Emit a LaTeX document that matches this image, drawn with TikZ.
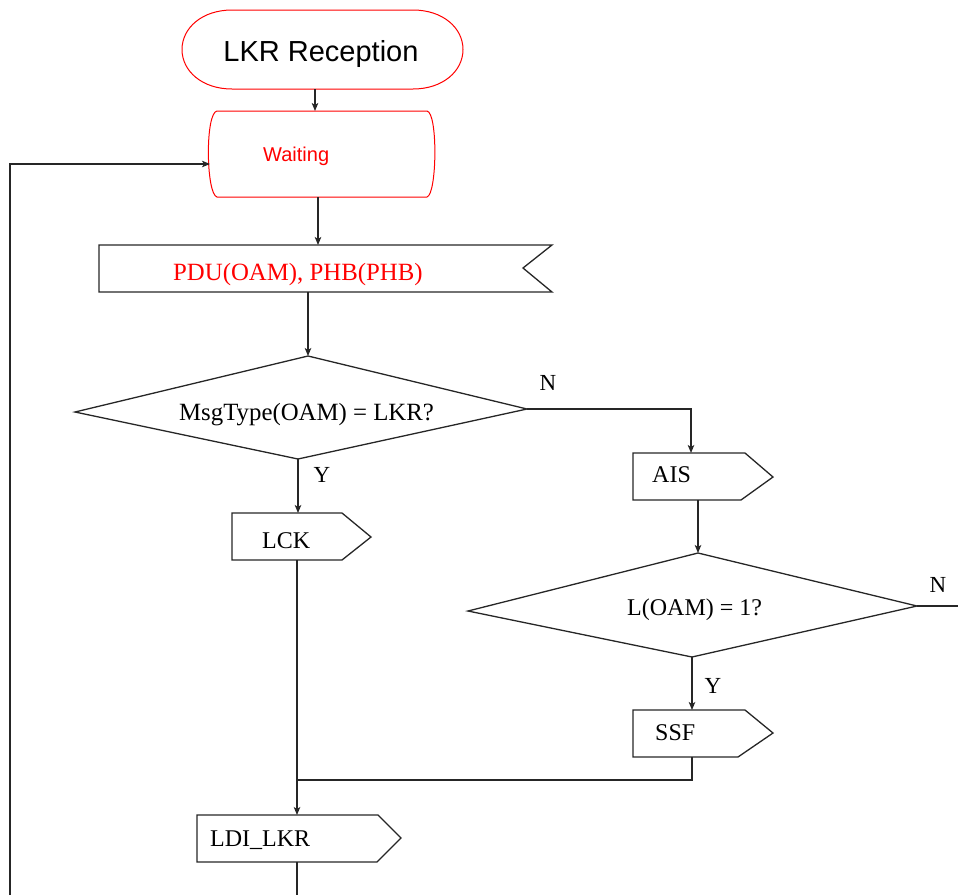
\documentclass[tikz,border=0pt]{standalone}
\usepackage{fontspec}
\setmainfont{Liberation Serif}
\newfontfamily\arialfont{Liberation Sans}
\usetikzlibrary{arrows.meta}
\begin{document}
\begin{tikzpicture}[x=1pt,y=-1pt,
  line/.style={draw=black!85, line width=1.4pt},
  flow/.style={line, -{Stealth[length=8pt,width=6.5pt,inset=2pt]}},
  redshape/.style={draw=red, line width=1pt},
  blkshape/.style={draw=black!85, line width=1.3pt},
  serif/.style={font=\fontsize{24}{28}\selectfont, inner sep=0pt, anchor=base west},
  serifL/.style={font=\fontsize{24.8}{28}\selectfont, inner sep=0pt, anchor=base west},
  yn/.style={font=\fontsize{23}{26}\selectfont, inner sep=0pt}]
\useasboundingbox (0,0) rectangle (958,895);

% start terminal
\draw[redshape] (232,10) -- (413,10) .. controls (443,10) and (463,28) .. (463,49.5)
  .. controls (463,71) and (443,89) .. (413,89) -- (232,89)
  .. controls (202,89) and (182,71) .. (182,49.5)
  .. controls (182,28) and (202,10) .. (232,10) -- cycle;
\node[font=\arialfont\fontsize{29}{32}\selectfont, inner sep=0pt, anchor=base] (start) at (321,61) {LKR Reception};
\coordinate (startB) at (315,89);

% waiting state
\draw[redshape] (217,111) -- (427,111) .. controls (438,113) and (437,194) .. (427,197)
  -- (217,197) .. controls (206,194) and (205,113) .. (217,111) -- cycle;
\node[font=\arialfont\fontsize{20}{24}\selectfont, text=red, inner sep=0pt, anchor=base west] (waiting) at (263,161) {Waiting};
\coordinate (waitT) at (315,111);
\coordinate (waitB) at (318,197);
\coordinate (waitL) at (210,164);

% input signal
\draw[blkshape] (99,245) -- (552,245) -- (523,268) -- (552,292) -- (99,292) -- cycle;
\node[serifL, text=red] (pdu) at (173,280) {PDU(OAM), PHB(PHB)};
\coordinate (pduT) at (318,245);
\coordinate (pduB) at (308,292);

% decision 1
\coordinate (d1T) at (308,356);
\coordinate (d1R) at (527,409);
\coordinate (d1B) at (298,459);
\coordinate (d1L) at (75,412);
\draw[blkshape] (d1T) -- (d1R) -- (d1B) -- (d1L) -- cycle;
\node[serifL] (dec1) at (179,420) {MsgType(OAM) = LKR?};
\node[yn] (n1) at (548,383) {N};
\node[yn] (y1) at (322,475) {Y};

% AIS
\draw[blkshape] (633,453) -- (745,453) -- (773,477) -- (741,500) -- (633,500) -- cycle;
\node[serif] (ais) at (652,482) {AIS};
\coordinate (aisT) at (691,453);
\coordinate (aisB) at (698,500);
\coordinate (d1Rturn) at (691,409);

% decision 2
\coordinate (d2T) at (698,553);
\coordinate (d2R) at (917,606);
\coordinate (d2B) at (692,657);
\coordinate (d2L) at (468,611);
\draw[blkshape] (d2T) -- (d2R) -- (d2B) -- (d2L) -- cycle;
\node[serif] (dec2) at (627,615) {L(OAM) = 1?};
\node[yn] (n2) at (938,585) {N};
\node[yn] (y2) at (713,686) {Y};
\coordinate (d2Rend) at (958,606);

% SSF
\draw[blkshape] (633,710) -- (745,710) -- (773,733) -- (738,757) -- (633,757) -- cycle;
\node[serif] (ssf) at (655,740) {SSF};
\coordinate (ssfT) at (692,710);
\coordinate (ssfB) at (692,757);
\coordinate (ssfTurn) at (692,780);
\coordinate (join) at (297,780);

% LCK
\draw[blkshape] (232,513) -- (342,513) -- (371,537) -- (342,560) -- (232,560) -- cycle;
\node[serif] (lck) at (262,548) {LCK};
\coordinate (lckT) at (298,513);
\coordinate (lckB) at (297,560);

% LDI_LKR
\draw[blkshape] (197,815) -- (378,815) -- (401,838) -- (377,862) -- (197,862) -- cycle;
\node[serif] (ldi) at (210,846) {LDI\_LKR};
\coordinate (ldiT) at (297,815);
\coordinate (ldiB) at (297,862);
\coordinate (ldiEnd) at (297,895);

% loop back
\coordinate (loopS) at (10,895);
\coordinate (loopC) at (10,164);

% connectors
\draw[flow] (startB) -- (waitT);
\draw[flow] (waitB) -- (pduT);
\draw[flow] (pduB) -- (d1T);
\draw[flow] (d1B) -- (lckT);
\draw[flow] (d1R) -- (d1Rturn) -- (aisT);
\draw[flow] (aisB) -- (d2T);
\draw[line] (d2R) -- (d2Rend);
\draw[flow] (d2B) -- (ssfT);
\draw[line] (ssfB) -- (ssfTurn) -- (join);
\draw[flow] (lckB) -- (ldiT);
\draw[line] (ldiB) -- (ldiEnd);
\draw[flow] (loopS) -- (loopC) -- (waitL);
\end{tikzpicture}
\end{document}
